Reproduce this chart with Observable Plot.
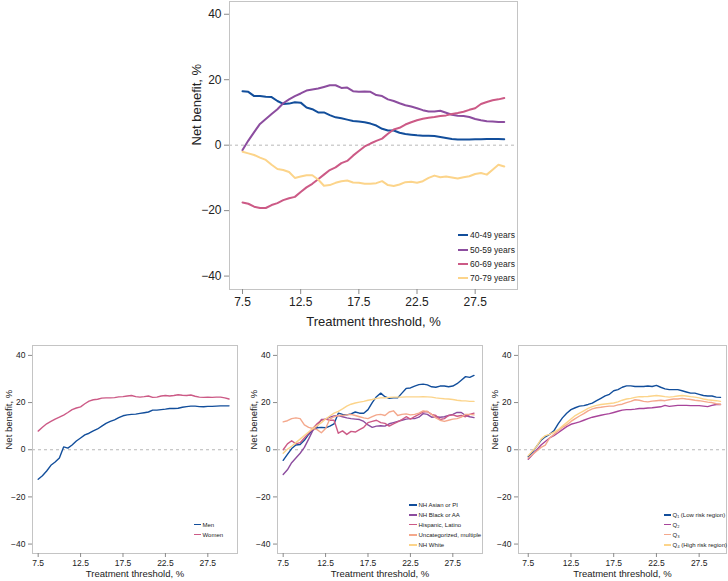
<!DOCTYPE html>
<html><head><meta charset="utf-8">
<script src="https://cdn.jsdelivr.net/npm/d3@7"></script>
<script src="https://cdn.jsdelivr.net/npm/@observablehq/plot@0.6"></script>
<style>
body{margin:0;background:#fff;font-family:"Liberation Sans",Arial,Helvetica,sans-serif;}
#root{position:relative;width:728px;height:581px;overflow:hidden;}
.panel{position:absolute;}
.leg{position:absolute;display:flex;align-items:center;white-space:nowrap;color:#222;}
.leg .sw{display:inline-block;}
</style>
</head><body><div id="root"></div>
<script>
// ---------- data ----------
const thresholds = [7.5,8,8.5,9,9.5,10,10.5,11,11.5,12,12.5,13,13.5,14,14.5,15,15.5,16,16.5,17,17.5,18,18.5,19,19.5,20,20.5,21,21.5,22,22.5,23,23.5,24,24.5,25,25.5,26,26.5,27,27.5,28,28.5,29,29.5,30];
const xTickValues = [7.5,12.5,17.5,22.5,27.5];
const yTickValues = [-40,-20,0,20,40];

// Age panel
const ageNames = ["40-49 years","50-59 years","60-69 years","70-79 years"];
const age4049 = [16.5,16.3,15.0,15.0,14.8,14.7,13.5,12.6,12.7,13.1,13.0,11.5,11.0,10.0,10.0,9.2,8.5,8.2,7.8,7.4,7.2,7.0,6.6,6.0,5.0,4.5,4.5,3.8,3.4,3.2,3.0,2.9,2.9,2.8,2.5,2.2,1.9,1.7,1.7,1.7,1.8,1.8,1.9,1.9,1.9,1.8];
const age5059 = [-1.5,1.4,4.0,6.5,8.0,9.5,11.0,12.8,14.0,15.0,15.8,16.7,17.0,17.3,17.8,18.3,18.3,17.5,17.6,16.5,16.3,16.4,16.3,15.3,15.0,14.0,13.5,12.8,12.2,11.8,11.3,10.7,10.3,10.3,10.5,9.9,9.3,9.0,8.9,8.6,8.0,7.6,7.3,7.2,7.1,7.1];
const age6069 = [-17.5,-17.9,-18.8,-19.2,-19.2,-18.3,-17.7,-16.8,-16.2,-15.8,-14.3,-12.9,-11.8,-10.4,-9.0,-7.6,-6.8,-5.5,-4.8,-3.2,-1.8,-0.4,0.5,1.3,2.0,3.5,4.8,5.3,6.3,7.0,7.6,8.1,8.4,8.6,8.9,9.1,9.5,9.8,10.2,10.8,11.3,12.6,13.2,13.7,14.0,14.4];
const age7079 = [-2.0,-2.5,-3.0,-3.8,-4.5,-6.0,-7.3,-7.6,-8.2,-10.0,-9.6,-9.2,-9.2,-10.5,-12.4,-12.2,-11.5,-11.0,-10.8,-11.4,-11.5,-11.8,-11.8,-11.6,-11.0,-12.2,-12.5,-12.0,-11.3,-11.2,-11.5,-11.0,-10.0,-9.3,-9.8,-9.6,-9.9,-10.2,-9.8,-9.5,-8.8,-8.5,-9.0,-7.5,-6.0,-6.5];

// Sex panel
const sexNames = ["Men","Women"];
const men = [-12.5,-11.0,-9.0,-6.6,-5.2,-3.5,1.2,0.7,2.0,3.7,5.0,6.3,7.0,8.0,8.8,10.0,11.2,12.0,12.7,13.6,14.4,14.8,15.0,15.1,15.4,15.7,16.0,16.8,16.8,17.0,17.2,17.5,17.5,17.6,18.0,18.3,18.5,18.5,18.3,18.2,18.4,18.4,18.5,18.6,18.6,18.6];
const women = [7.9,9.5,11.0,12.0,13.0,13.8,14.7,15.8,17.0,17.7,18.2,19.5,20.6,21.2,21.4,21.9,22.0,22.0,22.1,22.4,22.5,22.8,23.0,22.5,22.3,22.5,22.8,22.2,22.3,22.8,23.0,22.8,23.0,23.3,23.1,23.0,23.2,22.7,22.3,22.2,22.3,22.2,22.3,22.3,22.0,21.5];

// Race / ethnicity panel
const raceNames = ["NH Asian or PI","NH Black or AA","Hispanic, Latino","Uncategorized, multiple","NH White"];
const asian = [-4.5,-2.0,0.5,2.0,2.2,4.0,6.5,8.5,9.3,9.5,9.3,10.0,11.0,15.5,15.0,14.8,15.2,16.0,15.5,15.5,17.0,20.0,22.5,24.0,22.5,21.8,22.0,22.0,24.0,26.0,26.2,27.0,27.6,27.8,27.5,26.7,26.5,27.0,27.0,26.7,27.0,28.0,29.5,31.0,30.7,31.5];
const black = [-10.5,-8.5,-5.5,-3.5,-1.5,1.0,4.5,8.2,10.0,12.8,13.0,13.8,14.3,14.5,14.0,13.5,13.2,13.0,12.8,12.0,10.5,9.5,10.0,10.2,10.0,11.0,11.5,12.0,12.5,13.0,13.2,13.2,13.8,15.3,15.0,13.8,14.0,13.8,14.0,14.5,15.0,15.8,15.8,14.5,14.0,13.6];
const hispanic = [0.0,2.5,3.8,2.5,3.0,5.0,7.0,9.0,11.0,12.5,13.0,12.5,12.5,7.0,8.0,6.5,7.8,7.5,8.5,9.5,11.5,12.0,12.5,11.5,11.2,10.0,11.0,11.8,12.8,14.0,13.0,14.0,15.0,16.0,16.2,15.0,14.5,12.8,13.2,14.5,14.8,14.2,14.5,14.0,15.0,15.5];
const uncategorized = [11.8,12.3,13.2,13.5,13.2,10.5,9.5,9.0,8.5,7.2,9.0,13.0,14.0,14.5,14.5,14.8,15.0,14.5,14.0,13.5,13.2,14.0,14.8,15.0,14.5,16.0,16.5,14.5,15.0,15.2,14.8,15.0,15.5,16.5,16.2,15.0,13.5,12.5,12.0,12.5,13.0,13.2,13.8,15.0,15.0,14.8];
const white = [-1.5,0.2,1.5,3.0,4.5,6.0,7.5,9.0,10.2,11.5,13.0,14.3,15.5,16.3,17.3,18.5,19.3,19.8,20.2,20.5,21.0,21.3,21.8,22.0,22.0,22.2,22.3,22.3,22.3,22.4,22.4,22.4,22.4,22.5,22.4,22.3,22.0,21.8,21.6,21.5,21.3,21.0,20.8,20.7,20.5,20.5];

// Risk-region quartile panel
const quartNames = ["Q\u2081 (Low risk region)","Q\u2082","Q\u2083","Q\u2084 (High risk region)"];
const q1 = [-3.0,-1.0,1.5,4.0,5.5,6.5,8.0,11.0,13.5,15.5,17.0,17.8,18.5,18.7,19.2,19.8,20.8,21.8,22.8,23.5,25.0,25.5,26.5,27.1,27.1,26.8,26.8,26.8,27.0,26.8,27.3,26.5,25.8,25.5,25.5,25.5,25.0,24.5,24.0,24.0,23.5,23.0,22.8,22.8,22.3,22.2];
const q2 = [-4.0,-2.0,0.0,2.0,3.5,5.0,6.0,7.2,8.5,9.8,10.8,11.3,11.8,12.5,13.2,13.8,14.2,14.6,15.0,15.3,15.8,16.3,16.8,17.0,17.0,17.2,17.5,17.5,17.7,17.8,18.0,18.2,18.8,18.4,18.6,18.8,18.8,18.8,18.7,18.7,18.7,18.5,18.3,18.8,19.2,19.2];
const q3 = [-3.5,-2.0,-0.5,1.0,2.0,5.0,6.5,8.0,9.5,10.5,12.0,13.2,14.3,15.3,16.5,17.3,17.8,18.0,18.3,18.5,18.5,19.0,19.3,20.0,20.5,21.2,21.0,20.5,20.3,20.6,20.8,21.0,20.8,21.2,21.5,21.5,21.8,21.5,21.3,21.0,20.8,20.5,20.2,20.0,19.5,19.3];
const q4 = [-2.5,-0.5,1.5,4.5,6.0,6.5,7.5,8.5,10.0,11.5,13.0,14.5,15.5,16.5,17.5,18.3,18.8,19.2,19.4,19.6,19.8,20.3,21.0,21.5,21.8,22.2,22.5,22.5,22.6,22.8,23.0,22.8,22.5,22.3,22.5,22.8,23.0,22.8,22.5,22.3,22.0,21.5,21.2,21.0,20.8,20.5];

const C_BLUE = "#124e9b", C_PURPLE = "#8c4d9f", C_PINK = "#cc5a86", C_YELLOW = "#fcd48a", C_SALMON = "#f4a88c", C_MAG = "#a8449a";

// ---------- drawing ----------
const FONT = '"Liberation Sans", Arial, Helvetica, sans-serif';
const root = document.getElementById("root");

function makePanel(cfg) {
  const data = cfg.series.flatMap(s => thresholds.map((t, i) => ({t, v: s.values[i], name: s.name})));
  const svg = Plot.plot({
    width: cfg.w, height: cfg.h,
    marginLeft: cfg.ml, marginRight: cfg.mr, marginTop: cfg.mt, marginBottom: cfg.mb,
    style: {fontFamily: FONT, fontSize: cfg.tickFont + "px", color: "#222", background: "transparent", overflow: "visible"},
    x: {domain: cfg.xDomain},
    y: {domain: cfg.yDomain},
    color: {domain: cfg.series.map(s => s.name), range: cfg.series.map(s => s.color)},
    marks: [
      Plot.ruleY([0], {stroke: "#b8b8b8", strokeDasharray: "3,3", strokeWidth: 1}),
      Plot.line(data, {x: "t", y: "v", z: "name", stroke: "name", strokeWidth: cfg.sw, strokeLinejoin: "round"}),
      Plot.frame({stroke: "#c4c4c4", strokeWidth: 1}),
      Plot.axisX(xTickValues, {tickSize: cfg.ts, tickPadding: cfg.tpx, tickFormat: d => d.toFixed(1), stroke: "#8a8a8a", fill: "#222", label: null}),
      Plot.axisY(yTickValues, {tickSize: cfg.ts, tickPadding: cfg.tpy, stroke: "#8a8a8a", fill: "#222", label: null}),
      Plot.text(["Net benefit, %"], {text: d => d, frameAnchor: "left", dx: cfg.yTitleDx, rotate: -90, fontSize: cfg.titleFont, fill: "#222"}),
      Plot.text(["Treatment threshold, %"], {text: d => d, frameAnchor: "bottom", dy: cfg.xTitleDy, fontSize: cfg.titleFont, fill: "#222"})
    ]
  });
  svg.classList.add("panel");
  svg.style.left = cfg.left + "px";
  svg.style.top = cfg.top + "px";
  root.appendChild(svg);

  cfg.series.forEach((s, i) => {
    const row = document.createElement("div");
    row.className = "leg";
    row.style.left = cfg.leg.x + "px";
    row.style.top = (cfg.leg.ys[i] - 6) + "px";
    row.style.height = "12px";
    row.style.fontSize = cfg.leg.font + "px";
    const sw = document.createElement("span");
    sw.className = "sw";
    sw.style.width = cfg.leg.len + "px";
    sw.style.height = cfg.leg.sw + "px";
    sw.style.background = s.color;
    sw.style.marginRight = cfg.leg.gap + "px";
    const tx = document.createElement("span");
    tx.textContent = s.name;
    row.appendChild(sw); row.appendChild(tx);
    root.appendChild(row);
  });
}

// Top panel: age
makePanel({
  left: 150, top: 0, w: 400, h: 340, ml: 79, mr: 33, mt: 1, mb: 51,
  xDomain: [6.38, 31.14], yDomain: [-44.1, 43.9],
  tickFont: 12, titleFont: 13, sw: 2, ts: 5, tpx: 3, tpy: 3,
  yTitleDx: -33, xTitleDy: 36,
  series: [
    {name: ageNames[0], values: age4049, color: C_BLUE},
    {name: ageNames[1], values: age5059, color: C_PURPLE},
    {name: ageNames[2], values: age6069, color: C_PINK},
    {name: ageNames[3], values: age7079, color: C_YELLOW}
  ],
  leg: {x: 458, ys: [235, 249.5, 263.5, 277.5], font: 8.5, len: 10, sw: 2, gap: 2}
});

// Bottom left: sex
makePanel({
  left: 0, top: 335, w: 245, h: 246, ml: 32, mr: 8, mt: 10, mb: 28,
  xDomain: [6.83, 31.0], yDomain: [-44.0, 44.2],
  tickFont: 8.5, titleFont: 9.5, sw: 1.4, ts: 4, tpx: 2, tpy: 3,
  yTitleDx: -24, xTitleDy: 23,
  series: [
    {name: sexNames[0], values: men, color: C_BLUE},
    {name: sexNames[1], values: women, color: C_PINK}
  ],
  leg: {x: 194, ys: [524.5, 534.5], font: 6, len: 7, sw: 1.5, gap: 1.5}
});

// Bottom middle: race / ethnicity
makePanel({
  left: 245, top: 335, w: 245, h: 246, ml: 32, mr: 8, mt: 10, mb: 28,
  xDomain: [6.83, 31.0], yDomain: [-44.0, 44.2],
  tickFont: 8.5, titleFont: 9.5, sw: 1.4, ts: 4, tpx: 2, tpy: 3,
  yTitleDx: -24, xTitleDy: 23,
  series: [
    {name: raceNames[0], values: asian, color: C_BLUE},
    {name: raceNames[1], values: black, color: C_PURPLE},
    {name: raceNames[2], values: hispanic, color: C_PINK},
    {name: raceNames[3], values: uncategorized, color: C_SALMON},
    {name: raceNames[4], values: white, color: C_YELLOW}
  ],
  leg: {x: 409, ys: [505, 514.8, 524.6, 534.9, 545.2], font: 6, len: 8, sw: 1.5, gap: 1.5}
});

// Bottom right: risk quartiles
makePanel({
  left: 490, top: 335, w: 238, h: 246, ml: 28, mr: 2, mt: 10, mb: 28,
  xDomain: [6.36, 30.7], yDomain: [-44.0, 44.2],
  tickFont: 8.5, titleFont: 9.5, sw: 1.4, ts: 4, tpx: 2, tpy: 3,
  yTitleDx: -24, xTitleDy: 23,
  series: [
    {name: quartNames[0], values: q1, color: C_BLUE},
    {name: quartNames[1], values: q2, color: C_MAG},
    {name: quartNames[2], values: q3, color: C_SALMON},
    {name: quartNames[3], values: q4, color: C_YELLOW}
  ],
  leg: {x: 664, ys: [515, 524.6, 534.5, 545], font: 6, len: 7, sw: 1.5, gap: 1.5}
});
</script>
</body></html>
